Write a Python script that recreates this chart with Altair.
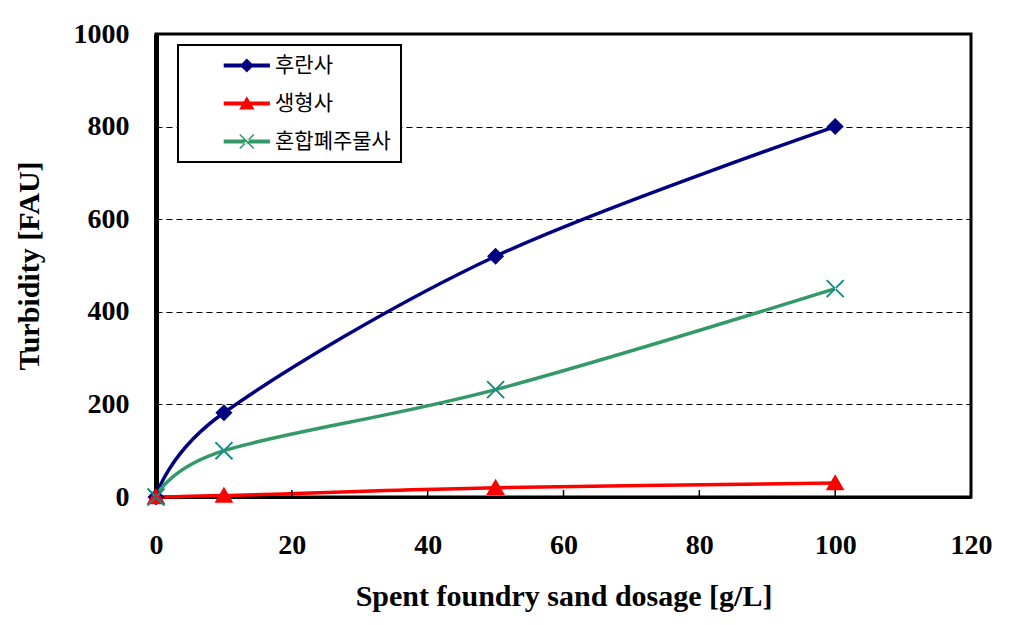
import altair as alt
import pandas as pd

# ---- data ----
dosage = [0, 10, 50, 100]
furan = [0, 182, 520, 800]          # 후란사
green_sand = [0, 3, 20, 30]         # 생형사
mixed = [0, 100, 232, 450]          # 혼합폐주물사
series_names = ["후란사", "생형사", "혼합폐주물사"]
series_values = [furan, green_sand, mixed]
colors = ["#000080", "#ff0000", "#339966"]
marker_colors = ["#000080", "#ff0000", "#138a8a"]
x_ticks = [0, 20, 40, 60, 80, 100, 120]
y_ticks = [0, 200, 400, 600, 800, 1000]
inner_ticks = [20, 40, 60, 80, 100]

rows = []
for name, vals in zip(series_names, series_values):
    for d_, v in zip(dosage, vals):
        rows.append({"series": name, "dosage": d_, "value": v})
df = pd.DataFrame(rows)
tick_df = pd.DataFrame({"t": inner_ticks})

W, H = 815, 463

# marker paths (unit box -1..1)
diamond = "M0,-1L1,0L0,1L-1,0Z"
triangle = "M0,-1.05L1.1,0.85L-1.1,0.85Z"
d = 0.08
xpath = (f"M{-1+d},{-1-d}L{1+d},{1-d}L{1-d},{1+d}L{-1-d},{-1+d}Z"
         f"M{-1+d},{1+d}L{1+d},{-1+d}L{1-d},{-1-d}L{-1-d},{1-d}Z")

# legend symbols: line + marker, shifted right of the symbol origin
cx = 6.9
la, lb, lh = 3.6, 10.2, 0.28
line_part = f"M{la},{-lh}H{lb}V{lh}H{la}Z"
leg_diamond = line_part + f"M{cx},-1L{cx+1},0L{cx},1L{cx-1},0Z"
leg_triangle = line_part + f"M{cx},-1.05L{cx+1.1},0.85L{cx-1.1},0.85Z"
leg_x = line_part + (
    f"M{cx-1+d},{-1-d}L{cx+1+d},{1-d}L{cx+1-d},{1+d}L{cx-1-d},{-1+d}Z"
    f"M{cx-1+d},{1+d}L{cx+1+d},{-1+d}L{cx+1-d},{-1-d}L{cx-1-d},{1-d}Z")

font = "Liberation Serif"
kfont = "Noto Sans CJK KR"

x_scale = alt.Scale(domain=[0, 120], nice=False)
y_scale = alt.Scale(domain=[0, 1000], nice=False)
color_scale = alt.Scale(domain=series_names, range=colors)

x_axis = alt.Axis(values=x_ticks, title="Spent foundry sand dosage [g/L]", grid=False,
                  tickSize=0, labelPadding=34, titlePadding=22, format="d",
                  labelFont=font, labelFontSize=28, labelFontWeight="bold", labelColor="black",
                  titleFont=font, titleFontSize=30, titleFontWeight="bold", titleColor="black",
                  domainColor="black", domainWidth=3, labelFlush=False)
y_axis = alt.Axis(values=y_ticks, title="Turbidity [FAU]", grid=True, format="d",
                  gridDash=[6, 4], gridColor="black", gridWidth=1.2, gridOpacity=1,
                  tickSize=0, labelPadding=27, titlePadding=29,
                  labelFont=font, labelFontSize=28, labelFontWeight="bold", labelColor="black",
                  titleFont=font, titleFontSize=30, titleFontWeight="bold", titleColor="black",
                  domainColor="black", domainWidth=5, labelFlush=False)

legend = alt.Legend(
    title=None, orient="none", legendX=22, legendY=11,
    strokeColor="black", fillColor="white",
    padding=10, symbolSize=196, labelOffset=66, rowPadding=16,
    labelFont=kfont, labelFontSize=21, labelColor="black",
    symbolOpacity=1, symbolStrokeWidth=0,
)

base = alt.Chart(df)

lines = base.mark_line(interpolate="cardinal", strokeWidth=3.5).encode(
    x=alt.X("dosage:Q", scale=x_scale, axis=x_axis),
    y=alt.Y("value:Q", scale=y_scale, axis=y_axis),
    color=alt.Color("series:N", scale=color_scale, legend=None),
    detail="series:N",
)

points = base.mark_point(filled=True, size=290, opacity=1).encode(
    x=alt.X("dosage:Q", scale=x_scale),
    y=alt.Y("value:Q", scale=y_scale),
    color=alt.Color("series:N", scale=alt.Scale(domain=series_names, range=marker_colors),
                    legend=None),
    shape=alt.Shape("series:N", scale=alt.Scale(domain=series_names,
                                                range=[diamond, triangle, xpath]),
                    legend=None),
)

# layer that draws nothing, only provides the legend (line + marker symbols)
legend_layer = base.transform_filter("false").mark_point(filled=True, opacity=1, size=196).encode(
    x=alt.X("dosage:Q", scale=x_scale),
    y=alt.Y("value:Q", scale=y_scale),
    color=alt.Color("series:N", scale=color_scale, legend=legend),
    shape=alt.Shape("series:N", scale=alt.Scale(domain=series_names,
                                                range=[leg_diamond, leg_triangle, leg_x]),
                    legend=legend),
)

ticks = alt.Chart(tick_df).mark_rule(color="black", strokeWidth=1.5).encode(
    x=alt.X("t:Q", scale=x_scale),
    y=alt.value(H),
    y2=alt.value(H - 7),
)

chart = alt.layer(lines, ticks, points, legend_layer).resolve_scale(
    shape="independent", color="independent"
).properties(
    width=W, height=H,
    padding={"left": 6, "top": 12, "right": 5, "bottom": 4},
    background="white",
).configure_view(stroke="black", strokeWidth=3).configure_legend(strokeWidth=2)

chart.save("out.html", embed_options={"renderer": "svg", "actions": False})
